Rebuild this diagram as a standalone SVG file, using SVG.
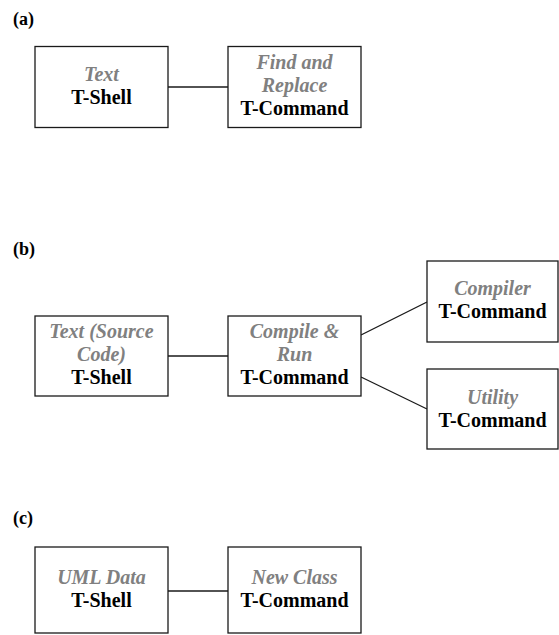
<svg xmlns="http://www.w3.org/2000/svg" width="559" height="635" viewBox="0 0 559 635">
  <style>
    .box { fill: #ffffff; stroke: #1a1a1a; stroke-width: 1.3; }
    .edge { stroke: #1a1a1a; stroke-width: 1.3; fill: none; }
    .lbl { font-size: 20px; font-weight: bold; text-anchor: middle; }
    .role { fill: #808080; font-style: italic; }
    .kind { fill: #000000; }
    .tag { font-size: 18px; text-anchor: start; fill: #000000; }
  </style>
  <rect width="559" height="635" fill="#ffffff"/>

  <g font-family="Liberation Serif, Times New Roman, serif">
  <!-- panel labels -->
  <text class="lbl tag" x="13" y="25">(a)</text>
  <text class="lbl tag" x="13" y="255">(b)</text>
  <text class="lbl tag" x="13" y="524">(c)</text>

  <!-- connectors -->
  <g id="connectors">
    <line class="edge" x1="168" y1="87" x2="228" y2="87"/>
    <line class="edge" x1="168" y1="356" x2="228" y2="356"/>
    <line class="edge" x1="361" y1="335" x2="427" y2="302"/>
    <line class="edge" x1="361" y1="377" x2="427" y2="409"/>
    <line class="edge" x1="168" y1="591" x2="228" y2="591"/>
  </g>

  <!-- (a) -->
  <g id="a-text-shell">
    <rect class="box" x="35" y="46.5" width="133" height="81"/>
    <text class="lbl role" x="101.5" y="80.5">Text</text>
    <text class="lbl kind" x="101.5" y="103.5">T-Shell</text>
  </g>
  <g id="a-find-replace">
    <rect class="box" x="228" y="46.5" width="133" height="81"/>
    <text class="lbl role" x="294.5" y="68.5">Find and</text>
    <text class="lbl role" x="294.5" y="91.5">Replace</text>
    <text class="lbl kind" x="294.5" y="114.5">T-Command</text>
  </g>

  <!-- (b) -->
  <g id="b-source-shell">
    <rect class="box" x="35" y="316" width="133" height="80"/>
    <text class="lbl role" x="101.5" y="338">Text (Source</text>
    <text class="lbl role" x="101.5" y="361">Code)</text>
    <text class="lbl kind" x="101.5" y="384">T-Shell</text>
  </g>
  <g id="b-compile-run">
    <rect class="box" x="228" y="316" width="133" height="80"/>
    <text class="lbl role" x="294.5" y="338">Compile &amp;</text>
    <text class="lbl role" x="294.5" y="361">Run</text>
    <text class="lbl kind" x="294.5" y="384">T-Command</text>
  </g>
  <g id="b-compiler">
    <rect class="box" x="427" y="261" width="131" height="81"/>
    <text class="lbl role" x="492.5" y="295">Compiler</text>
    <text class="lbl kind" x="492.5" y="318">T-Command</text>
  </g>
  <g id="b-utility">
    <rect class="box" x="427" y="369" width="131" height="80"/>
    <text class="lbl role" x="492.5" y="404">Utility</text>
    <text class="lbl kind" x="492.5" y="427">T-Command</text>
  </g>

  <!-- (c) -->
  <g id="c-uml-shell">
    <rect class="box" x="35" y="547" width="133" height="86"/>
    <text class="lbl role" x="101.5" y="584">UML Data</text>
    <text class="lbl kind" x="101.5" y="607">T-Shell</text>
  </g>
  <g id="c-new-class">
    <rect class="box" x="228" y="547" width="133" height="86"/>
    <text class="lbl role" x="294.5" y="584">New Class</text>
    <text class="lbl kind" x="294.5" y="607">T-Command</text>
  </g>
  </g>
</svg>
